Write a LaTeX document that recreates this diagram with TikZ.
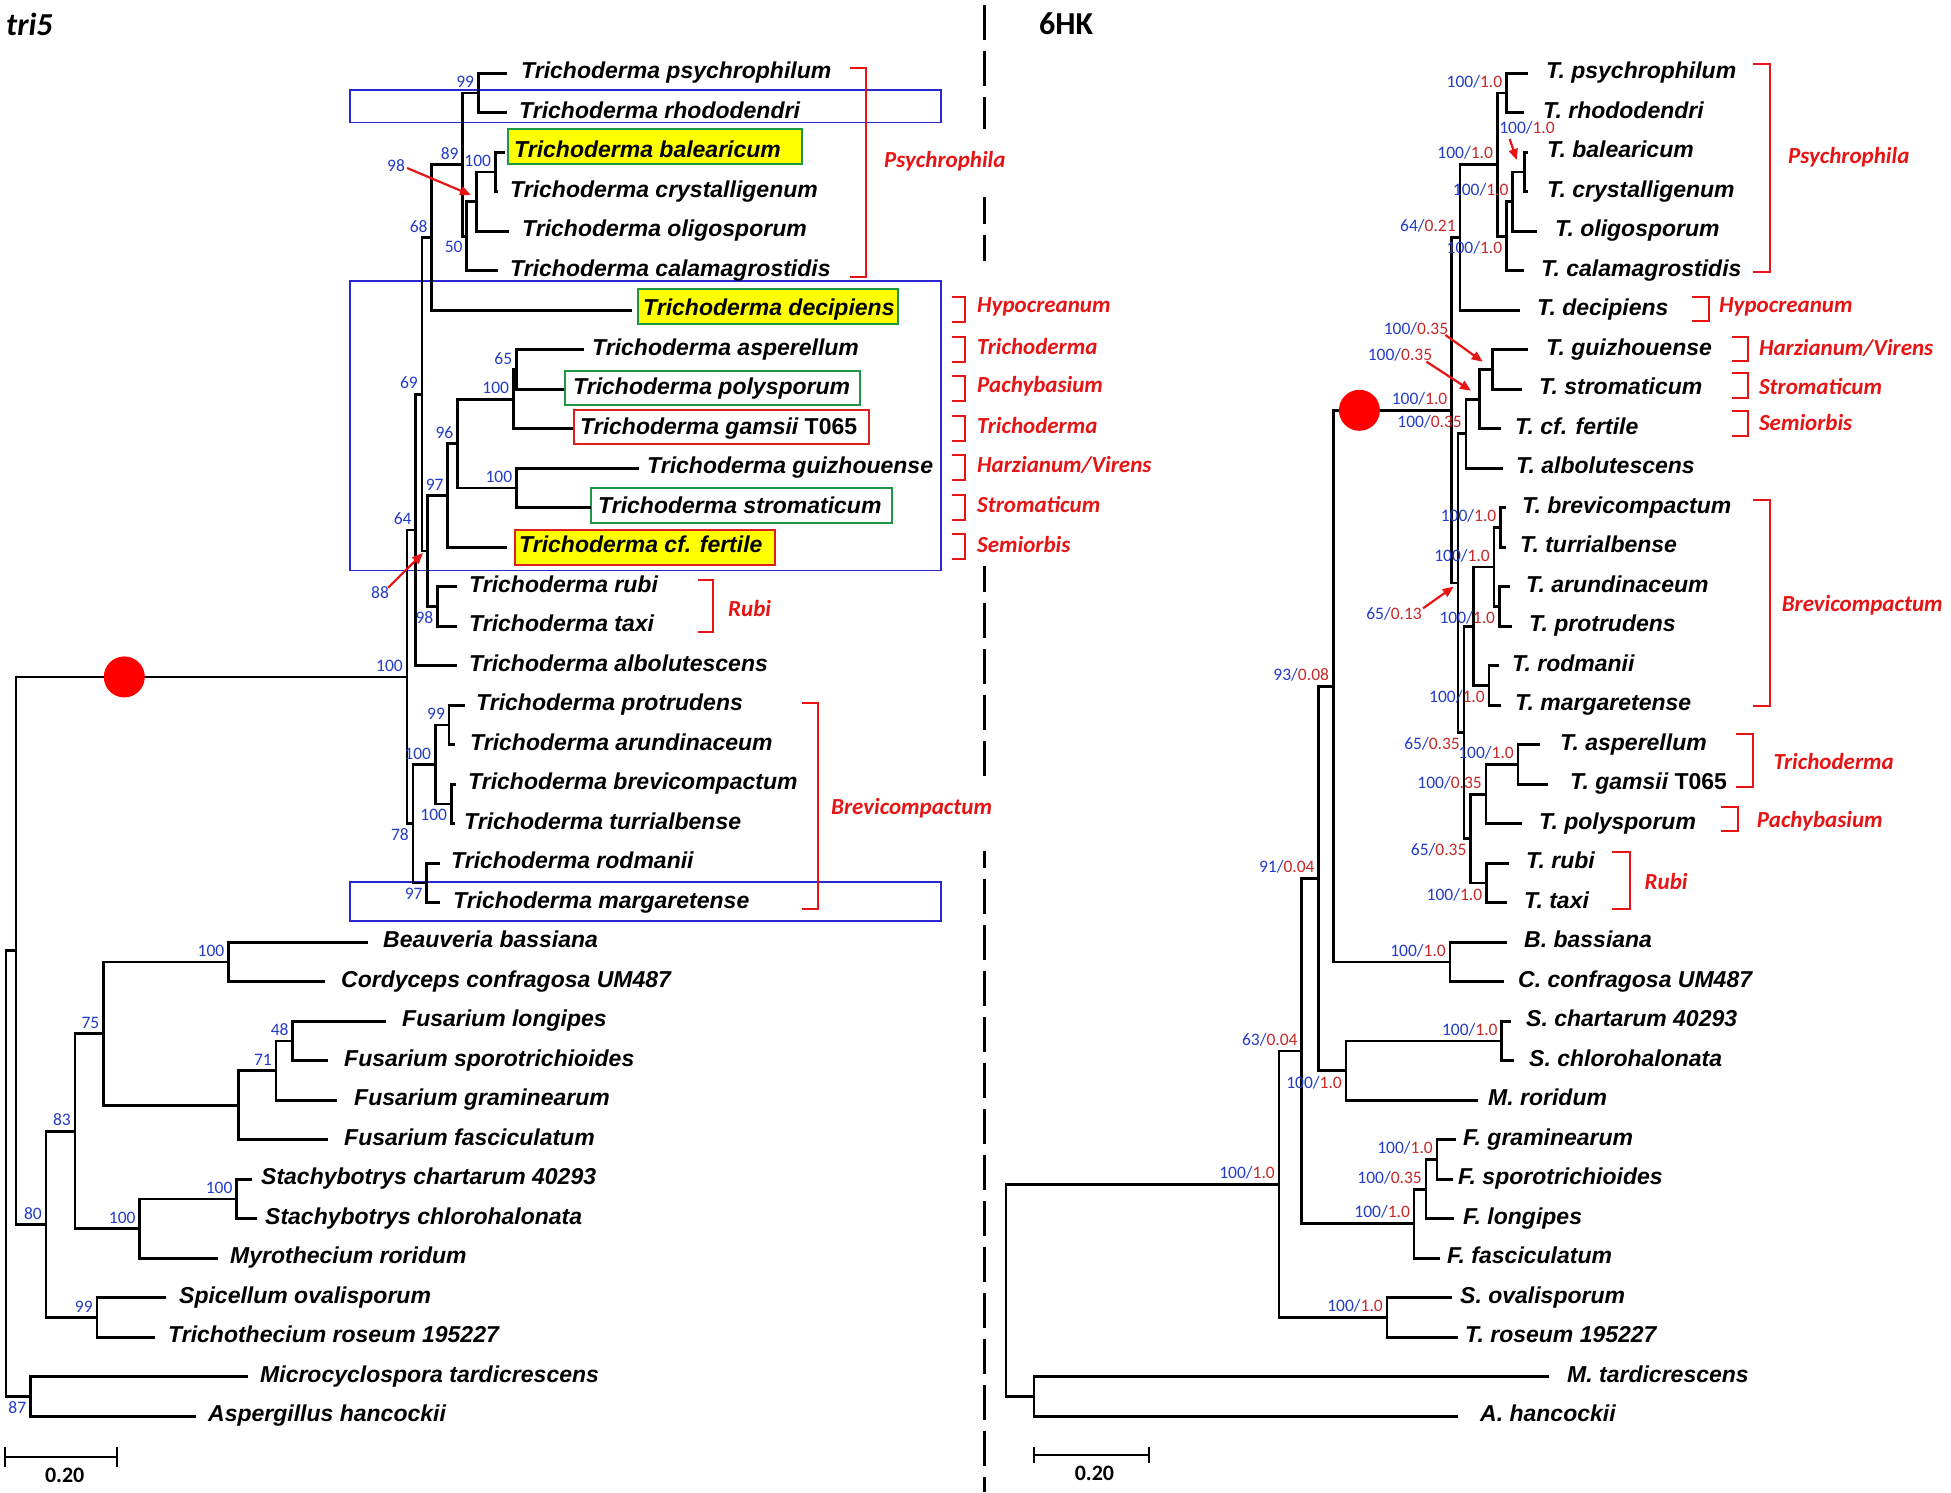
\documentclass[tikz,border=0pt]{standalone}
\usepackage{fontspec}
\setmainfont{Liberation Sans}
\newfontfamily\calfont{Carlito}
\usetikzlibrary{arrows.meta}
\definecolor{numblue}{RGB}{35,60,200}
\definecolor{numred}{RGB}{200,40,40}
\definecolor{clred}{RGB}{230,20,20}
\definecolor{boxgreen}{RGB}{30,150,70}
\definecolor{boxblue}{RGB}{40,40,210}
\definecolor{boxred}{RGB}{220,30,30}
\definecolor{hiyel}{RGB}{255,255,0}
\newcommand\bsv[2]{\textcolor{numblue}{#1/}\textcolor{numred}{#2}}
\newcommand\tip[5]{\coordinate (#1) at (#2,#3); \node[sp] (#1t) at (#4,#3+5.5) {#5};}
\newcommand\inode[5]{\coordinate (#1) at (#2,#3); \draw[br] (#1) |- (#4); \draw[br] (#1) |- (#5);}
\newcommand\la[2]{\node[nA] (#1lab) at ([xshift=-4pt,yshift=5pt]#1) {#2};}
\newcommand\lb[2]{\node[nB] (#1lab) at ([xshift=-4pt,yshift=-5pt]#1) {#2};}
\newcommand\brk[4]{\draw[brk] (#1,#3) -- (#2,#3) -- (#2,#4) -- (#1,#4);}
\begin{document}
\begin{tikzpicture}[x=1pt,y=-1pt,
  br/.style={line width=2.7pt},
  sp/.style={font=\fontsize{23}{23}\selectfont\bfseries\itshape, anchor=base west, inner sep=0pt},
  nA/.style={font=\calfont\fontsize{17.5}{17.5}\selectfont, text=numblue, inner sep=0pt, anchor=south east},
  nB/.style={nA, anchor=north east},
  nC/.style={font=\calfont\fontsize{17.5}{17.5}\selectfont, text=numblue, inner sep=0pt},
  cl/.style={font=\calfont\fontsize{23}{23}\selectfont\bfseries\itshape, text=clred, anchor=west, inner sep=0pt},
  brk/.style={draw=clred, line width=2pt},
  arr/.style={draw=clred, line width=2.2pt, -{Triangle[length=11pt,width=9pt]}},
  bbox/.style={draw=boxblue, line width=1.4pt},
  gbox/.style={draw=boxgreen, line width=2pt},
  rbox/.style={draw=boxred, line width=2pt},
  ttl/.style={font=\calfont\fontsize{32}{32}\selectfont\bfseries, anchor=west, inner sep=0pt},
  scl/.style={font=\calfont\fontsize{22}{22}\selectfont\bfseries, inner sep=0pt},
  divider/.style={line width=3pt, dash pattern=on 35pt off 11pt}
]
\useasboundingbox (0,0) rectangle (1951,1492);
\fill[white] (0,0) rectangle (1951,1492);

% ---------- divider ----------
\draw[divider] (984,5) -- (984,1492);
\fill[white] (974,261) rectangle (996,566);
\fill[white] (974,779) rectangle (996,851);
\fill[white] (974,129) rectangle (996,197);

% ---------- titles ----------
\node[ttl] (title1) at (6,24) {\itshape tri5};
\node[ttl] (title2) at (1039,24) {6HK};

% ---------- left boxes ----------
\draw[bbox] (350,90) rectangle (941,122.7);
\draw[bbox] (350,281) rectangle (941,570.7);
\draw[bbox] (350,882) rectangle (941,921);
\filldraw[gbox, fill=hiyel] (507.5,129.3) rectangle (802,164);
\filldraw[gbox, fill=hiyel] (637.8,289.3) rectangle (898,324);
\draw[gbox] (564.6,370.7) rectangle (860,405);
\draw[rbox] (573.5,410) rectangle (868.5,444);
\draw[gbox] (591.4,488.3) rectangle (892,522.7);
\filldraw[rbox, fill=hiyel] (515,530) rectangle (775,565);

% ---------- left tips ----------
\tip{L0}{507}{73.3}{521}{Trichoderma psychrophilum}
\tip{L1}{507}{112.8}{519}{Trichoderma rhododendri}
\tip{L2}{505}{152.3}{514}{Trichoderma balearicum}
\tip{L3}{498}{191.8}{510}{Trichoderma crystalligenum}
\tip{L4}{508.6}{231.3}{522}{Trichoderma oligosporum}
\tip{L5}{497.8}{270.8}{510}{Trichoderma calamagrostidis}
\tip{L6}{631.7}{310.3}{643}{Trichoderma decipiens}
\tip{L7}{584.2}{349.8}{592}{Trichoderma asperellum}
\tip{L8}{563.9}{389.3}{573}{Trichoderma polysporum}
\tip{L9}{572.8}{428.8}{580}{Trichoderma gamsii {\upshape T065}}
\tip{L10}{638.8}{468.3}{647}{Trichoderma guizhouense}
\tip{L11}{590.7}{507.8}{598}{Trichoderma stromaticum}
\tip{L12}{507}{547.3}{519}{Trichoderma cf. fertile}
\tip{L13}{457}{586.8}{469}{Trichoderma rubi}
\tip{L14}{457}{626.3}{469}{Trichoderma taxi}
\tip{L15}{457}{665.8}{469}{Trichoderma albolutescens}
\tip{L16}{464.7}{705.3}{476}{Trichoderma protrudens}
\tip{L17}{455}{744.8}{470}{Trichoderma arundinaceum}
\tip{L18}{456}{784.3}{468}{Trichoderma brevicompactum}
\tip{L19}{455}{823.8}{464}{Trichoderma turrialbense}
\tip{L20}{440.3}{863.3}{451}{Trichoderma rodmanii}
\tip{L21}{440.3}{902.8}{453}{Trichoderma margaretense}
\tip{L22}{367.7}{942.3}{383}{Beauveria bassiana}
\tip{L23}{325}{981.8}{341}{Cordyceps confragosa UM487}
\tip{L24}{385.7}{1021.3}{402}{Fusarium longipes}
\tip{L25}{327.8}{1060.8}{344}{Fusarium sporotrichioides}
\tip{L26}{337.4}{1100.3}{354}{Fusarium graminearum}
\tip{L27}{327.8}{1139.8}{344}{Fusarium fasciculatum}
\tip{L28}{251.7}{1179.3}{261}{Stachybotrys chartarum 40293}
\tip{L29}{256.7}{1218.8}{265}{Stachybotrys chlorohalonata}
\tip{L30}{217.8}{1258.3}{230}{Myrothecium roridum}
\tip{L31}{166}{1297.8}{179}{Spicellum ovalisporum}
\tip{L32}{155}{1337.3}{168}{Trichothecium roseum 195227}
\tip{L33}{247.8}{1376.8}{260}{Microcyclospora tardicrescens}
\tip{L34}{196.4}{1416.3}{208}{Aspergillus hancockii}

% ---------- left internal nodes ----------
\inode{n99}{478.2}{93.05}{L0}{L1}
\inode{nA100}{495.3}{172.05}{L2}{L3}
\inode{n98}{476.4}{201.7}{nA100}{L4}
\inode{n50}{466.7}{236.25}{n98}{L5}
\inode{n89}{462.8}{164.65}{n99}{n50}
\inode{n68}{431.8}{237.5}{n89}{L6}
\inode{n65}{516.4}{369.55}{L7}{L8}
\inode{nB100}{513.2}{399.2}{n65}{L9}
\inode{nC100}{516.4}{488.05}{L10}{L11}
\inode{n96}{457.5}{443.6}{nB100}{nC100}
\inode{n97}{447.8}{495.45}{n96}{L12}
\inode{n98b}{437.5}{606.55}{L13}{L14}
\inode{n88}{427.5}{551}{n97}{n98b}
\inode{n69}{422}{394.25}{n68}{n88}
\inode{n64}{415.7}{530}{n69}{L15}
\inode{n99b}{449.1}{725.05}{L16}{L17}
\inode{nD100}{451.2}{804.05}{L18}{L19}
\inode{nE100}{435.2}{764.55}{n99b}{nD100}
\inode{n97b}{426.8}{883.05}{L20}{L21}
\inode{n78}{413}{823.8}{nE100}{n97b}
\inode{nT100}{407}{676.9}{n64}{n78}
\inode{nBC}{228.5}{962.05}{L22}{L23}
\inode{n48}{292.8}{1041.05}{L24}{L25}
\inode{n71}{276}{1070.7}{n48}{L26}
\inode{nF}{238.2}{1105.25}{n71}{L27}
\inode{n75}{103.5}{1033.65}{nBC}{nF}
\inode{nSS}{236.6}{1199.05}{L28}{L29}
\inode{nSM}{139.7}{1228.7}{nSS}{L30}
\inode{n83}{75}{1131.2}{n75}{nSM}
\inode{n99c}{96.9}{1317.55}{L31}{L32}
\inode{n80}{46}{1224.4}{n83}{n99c}
\inode{n16}{16}{950.65}{nT100}{n80}
\inode{n87}{30.4}{1396.55}{L33}{L34}
\inode{nroot}{6}{1173.6}{n16}{n87}

% ---------- left support values ----------
\la{n99}{99}
\la{nA100}{100}
\lb{n50}{50}
\la{n89}{89}
\la{n68}{68}
\la{n65}{65}
\la{nB100}{100}
\la{nC100}{100}
\la{n96}{96}
\la{n97}{97}
\lb{n98b}{98}
\la{n69}{69}
\la{n64}{64}
\la{n99b}{99}
\lb{nD100}{100}
\la{nE100}{100}
\lb{n97b}{97}
\lb{n78}{78}
\la{nT100}{100}
\la{nBC}{100}
\la{n48}{48}
\la{n71}{71}
\la{n75}{75}
\la{nSS}{100}
\la{nSM}{100}
\la{n83}{83}
\la{n99c}{99}
\la{n80}{80}
\lb{n87}{87}
\node[nC] (lab98) at (396,166) {98};
\coordinate (tip98) at (471,195);
\draw[arr] (lab98.east) ++(2,2) -- (tip98);
\node[nC] (lab88) at (380,593) {88};
\coordinate (tip88) at (423,553);
\draw[arr] (lab88.north east) ++(-1,1) -- (tip88);

% red dot left
\fill[red] (124.3,676.9) circle[radius=20.5];

% ---------- left clade brackets ----------
\brk{849.5}{865.5}{68.3}{277.3}
\node[cl] (cPsyL) at (884,161) {Psychrophila};
\brk{952}{965}{297.3}{322.3}
\node[cl] (cHypL) at (977,307.3) {Hypocreanum};
\brk{952}{965}{336.8}{361.8}
\node[cl] (cTri1L) at (977,346.8) {Trichoderma};
\brk{952}{965}{376.3}{401.3}
\node[cl] (cPacL) at (977,386.3) {Pachybasium};
\brk{952}{965}{415.8}{440.8}
\node[cl] (cTri2L) at (977,425.8) {Trichoderma};
\brk{952}{965}{455.3}{480.3}
\node[cl] (cHarL) at (977,465.3) {Harzianum/Virens};
\brk{952}{965}{494.8}{519.8}
\node[cl] (cStrL) at (977,504.8) {Stromaticum};
\brk{952}{965}{534.3}{559.3}
\node[cl] (cSemL) at (977,544.3) {Semiorbis};
\brk{698}{713}{580}{632}
\node[cl] (cRubL) at (728,608.5) {Rubi};
\brk{801.5}{818}{702.7}{909.3}
\node[cl] (cBreL) at (831,808) {Brevicompactum};

% ---------- left scale bar ----------
\coordinate (sbL1) at (4.5,1456.7);
\coordinate (sbL2) at (117,1456.7);
\draw[line width=2pt] (sbL1) -- (sbL2);
\draw[line width=2pt] ([yshift=10pt]sbL1) -- ([yshift=-10pt]sbL1);
\draw[line width=2pt] ([yshift=10pt]sbL2) -- ([yshift=-10pt]sbL2);
\node[scl] (sbLt) at (64.7,1475) {0.20};

% ---------- right tips ----------
\tip{R0}{1527.5}{73.3}{1546}{T. psychrophilum}
\tip{R1}{1524}{112.8}{1543}{T. rhododendri}
\tip{R2}{1528}{152.3}{1547}{T. balearicum}
\tip{R3}{1528}{191.8}{1547}{T. crystalligenum}
\tip{R4}{1536.7}{231.3}{1555}{T. oligosporum}
\tip{R5}{1524.2}{270.8}{1541}{T. calamagrostidis}
\tip{R6}{1520}{310.3}{1537}{T. decipiens}
\tip{R7}{1527.5}{349.8}{1546}{T. guizhouense}
\tip{R8}{1522}{389.3}{1539}{T. stromaticum}
\tip{R9}{1500.5}{428.8}{1515}{T. cf. fertile}
\tip{R10}{1503.4}{468.3}{1516}{T. albolutescens}
\tip{R11}{1506.4}{507.8}{1522}{T. brevicompactum}
\tip{R12}{1505.5}{547.3}{1520}{T. turrialbense}
\tip{R13}{1510}{586.8}{1526}{T. arundinaceum}
\tip{R14}{1512}{626.3}{1529}{T. protrudens}
\tip{R15}{1498.5}{665.8}{1512}{T. rodmanii}
\tip{R16}{1501}{705.3}{1515}{T. margaretense}
\tip{R17}{1540}{744.8}{1560}{T. asperellum}
\tip{R18}{1548.3}{784.3}{1570}{T. gamsii {\upshape T065}}
\tip{R19}{1522}{823.8}{1539}{T. polysporum}
\tip{R20}{1509}{863.3}{1526}{T. rubi}
\tip{R21}{1507}{902.8}{1524}{T. taxi}
\tip{R22}{1506.6}{942.3}{1524}{B. bassiana}
\tip{R23}{1504}{981.8}{1518}{C. confragosa UM487}
\tip{R24}{1511}{1021.3}{1526}{S. chartarum 40293}
\tip{R25}{1513.5}{1060.8}{1529}{S. chlorohalonata}
\tip{R26}{1477.8}{1100.3}{1488}{M. roridum}
\tip{R27}{1456.3}{1139.8}{1463}{F. graminearum}
\tip{R28}{1453}{1179.3}{1458}{F. sporotrichioides}
\tip{R29}{1453.9}{1218.8}{1463}{F. longipes}
\tip{R30}{1439.5}{1258.3}{1447}{F. fasciculatum}
\tip{R31}{1451.5}{1297.8}{1460}{S. ovalisporum}
\tip{R32}{1458.4}{1337.3}{1465}{T. roseum 195227}
\tip{R33}{1548.8}{1376.8}{1567}{M. tardicrescens}
\tip{R34}{1458.4}{1416.3}{1480}{A. hancockii}

% ---------- right internal nodes ----------
\inode{rPR}{1506.4}{93.05}{R0}{R1}
\inode{rD}{1524.2}{172.05}{R2}{R3}
\inode{rC}{1512.6}{201.7}{rD}{R4}
\inode{rB}{1506.4}{236.25}{rC}{R5}
\inode{rA}{1497.2}{164.65}{rPR}{rB}
\inode{rE}{1459.9}{237.5}{rA}{R6}
\inode{rGS}{1492.2}{369.55}{R7}{R8}
\inode{rFG}{1479.8}{399.2}{rGS}{R9}
\inode{rG}{1466}{433.75}{rFG}{R10}
\inode{rBT}{1500.5}{527.55}{R11}{R12}
\inode{rAP}{1499.3}{606.55}{R13}{R14}
\inode{rBTAP}{1494}{567.05}{rBT}{rAP}
\inode{rRM}{1488.9}{685.55}{R15}{R16}
\inode{rBR}{1473.6}{626.3}{rBTAP}{rRM}
\inode{rAG}{1518}{764.55}{R17}{R18}
\inode{rAGP}{1486}{794.2}{rAG}{R19}
\inode{rRT}{1486.4}{883.05}{R20}{R21}
\inode{rP}{1470.6}{838.6}{rAGP}{rRT}
\inode{rY}{1464}{732.45}{rBR}{rP}
\inode{rX}{1458}{583.1}{rG}{rY}
\inode{rTC}{1451.5}{410.3}{rE}{rX}
\inode{rBC}{1450}{962.05}{R22}{R23}
\inode{rT}{1333.2}{686.2}{rTC}{rBC}
\inode{rSS}{1501.8}{1041.05}{R24}{R25}
\inode{rSM}{1346}{1070.7}{rSS}{R26}
\inode{rN91}{1318.8}{878.45}{rT}{rSM}
\inode{rFF1}{1437}{1159.55}{R27}{R28}
\inode{rFF2}{1426}{1189.2}{rFF1}{R29}
\inode{rF}{1414.1}{1223.75}{rFF2}{R30}
\inode{rN63}{1301.8}{1051.1}{rN91}{rF}
\inode{rSO}{1387}{1317.55}{R31}{R32}
\inode{rN1}{1279}{1184.3}{rN63}{rSO}
\inode{rMA}{1034}{1396.55}{R33}{R34}
\inode{rRoot}{1005.9}{1290.4}{rN1}{rMA}

% ---------- right support values ----------
\la{rPR}{\bsv{100}{1.0}}
\la{rA}{\bsv{100}{1.0}}
\la{rC}{\bsv{100}{1.0}}
\lb{rB}{\bsv{100}{1.0}}
\la{rE}{\bsv{64}{0.21}}
\la{rG}{\bsv{100}{0.35}}
\la{rTC}{\bsv{100}{1.0}}
\la{rBT}{\bsv{100}{1.0}}
\la{rBTAP}{\bsv{100}{1.0}}
\lb{rAP}{\bsv{100}{1.0}}
\lb{rRM}{\bsv{100}{1.0}}
\lb{rY}{\bsv{65}{0.35}}
\la{rAG}{\bsv{100}{1.0}}
\la{rAGP}{\bsv{100}{0.35}}
\lb{rP}{\bsv{65}{0.35}}
\lb{rRT}{\bsv{100}{1.0}}
\la{rBC}{\bsv{100}{1.0}}
\la{rT}{\bsv{93}{0.08}}
\la{rSS}{\bsv{100}{1.0}}
\lb{rSM}{\bsv{100}{1.0}}
\la{rN91}{\bsv{91}{0.04}}
\la{rFF1}{\bsv{100}{1.0}}
\la{rFF2}{\bsv{100}{0.35}}
\la{rF}{\bsv{100}{1.0}}
\la{rN63}{\bsv{63}{0.04}}
\la{rSO}{\bsv{100}{1.0}}
\la{rN1}{\bsv{100}{1.0}}
\node[nC] (labD) at (1527,127.3) {\bsv{100}{1.0}};
\coordinate (tipD) at (1516.7,160);
\draw[arr] (1509.7,139) -- (tipD);
\node[nC] (labGS) at (1416,328.3) {\bsv{100}{0.35}};
\coordinate (tipGS) at (1482.7,361.7);
\draw[arr] (labGS.south east) ++(-3,0) -- (tipGS);
\node[nC] (labFG) at (1400,355) {\bsv{100}{0.35}};
\coordinate (tipFG) at (1471,390.7);
\draw[arr] (labFG.south east) ++(-6,0) -- (tipFG);
\node[nC] (labX) at (1394,614) {\bsv{65}{0.13}};
\coordinate (tipX) at (1453.6,586.7);
\draw[arr] (labX.north east) ++(1,1) -- (tipX);

% red dot right
\fill[red] (1359.4,410.3) circle[radius=20.5];

% ---------- right clade brackets ----------
\brk{1753.4}{1770.4}{64}{272.3}
\node[cl] (cPsyR) at (1787.9,157) {Psychrophila};
\brk{1692.4}{1709}{297}{321}
\node[cl] (cHypR) at (1719,307.3) {Hypocreanum};
\brk{1731.8}{1747.6}{336.7}{361}
\node[cl] (cHarR) at (1758.8,348.3) {Harzianum/Virens};
\brk{1731.8}{1747.6}{373.3}{398.3}
\node[cl] (cStrR) at (1758.8,386) {Stromaticum};
\brk{1731.8}{1748}{411}{435.7}
\node[cl] (cSemR) at (1758.8,422.7) {Semiorbis};
\brk{1753.4}{1770.4}{500}{705.7}
\node[cl] (cBreR) at (1781.6,605.7) {Brevicompactum};
\brk{1736}{1752.6}{734}{786.7}
\node[cl] (cTriR) at (1773.3,761.7) {Trichoderma};
\brk{1721.4}{1738}{806.7}{830.7}
\node[cl] (cPacR) at (1756.7,821.7) {Pachybasium};
\brk{1612}{1629.7}{851.7}{909.3}
\node[cl] (cRubR) at (1644.5,881.7) {Rubi};

% ---------- right scale bar ----------
\coordinate (sbR1) at (1034,1455.3);
\coordinate (sbR2) at (1149.3,1455.3);
\draw[line width=2pt] (sbR1) -- (sbR2);
\draw[line width=2pt] ([yshift=8pt]sbR1) -- ([yshift=-8pt]sbR1);
\draw[line width=2pt] ([yshift=8pt]sbR2) -- ([yshift=-8pt]sbR2);
\node[scl] (sbRt) at (1094.4,1473.3) {0.20};
\end{tikzpicture}
\end{document}
